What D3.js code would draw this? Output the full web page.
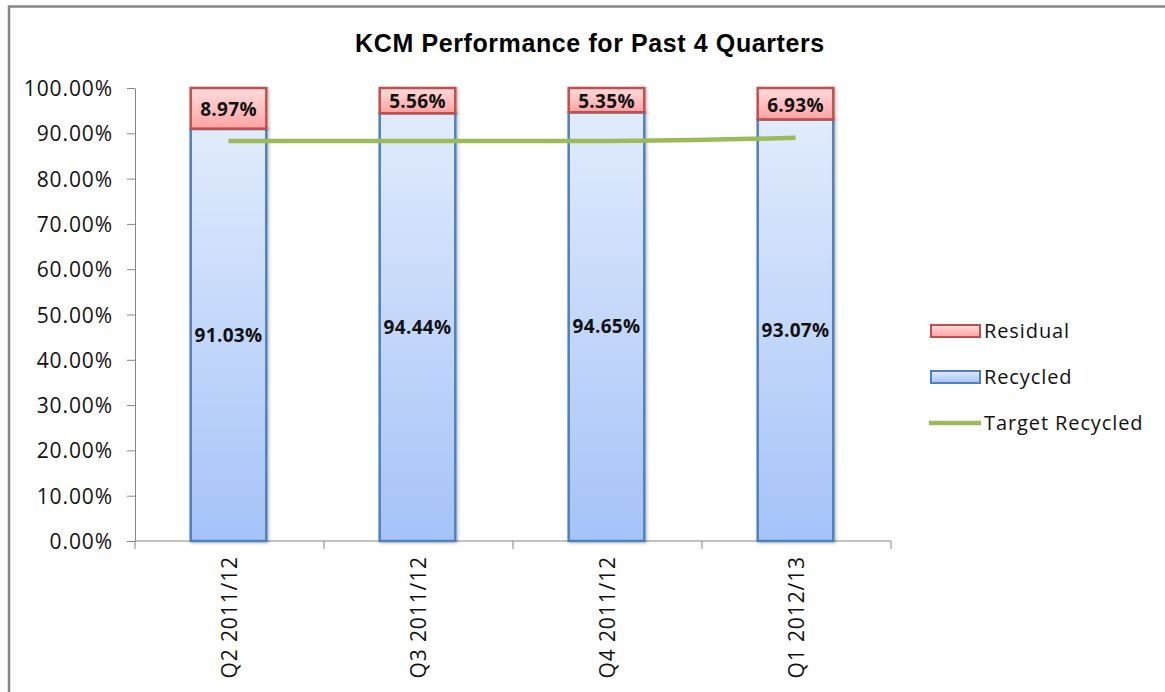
<!DOCTYPE html>
<html>
<head>
<meta charset="utf-8">
<script src="https://cdn.jsdelivr.net/npm/d3@7"></script>
<style>
  body { margin: 0; background: #fff; }
  svg { display: block; }
</style>
</head>
<body>
<svg id="chart" width="1165" height="692"></svg>
<script>
const quarters = ["Q2 2011/12", "Q3 2011/12", "Q4 2011/12", "Q1 2012/13"];
const recycled = [91.03, 94.44, 94.65, 93.07];
const residual = [8.97, 5.56, 5.35, 6.93];
const targetRecycled = [88.3, 88.3, 88.3, 89.0];
const yTickValues = [0, 10, 20, 30, 40, 50, 60, 70, 80, 90, 100];

const svg = d3.select("#chart");
const defs = svg.append("defs");

// gradients like the office chart fill
const blueGrad = defs.append("linearGradient").attr("id", "blueGrad")
  .attr("x1", 0).attr("y1", 0).attr("x2", 0).attr("y2", 1);
blueGrad.append("stop").attr("offset", "0%").attr("stop-color", "#e1ebfc");
blueGrad.append("stop").attr("offset", "100%").attr("stop-color", "#a5c3f8");

const redGrad = defs.append("linearGradient").attr("id", "redGrad")
  .attr("x1", 0).attr("y1", 0).attr("x2", 0).attr("y2", 1);
redGrad.append("stop").attr("offset", "0%").attr("stop-color", "#ffdcdc");
redGrad.append("stop").attr("offset", "100%").attr("stop-color", "#ffa3a3");

const shadow = defs.append("filter").attr("id", "shadow")
  .attr("x", "-20%").attr("y", "-5%").attr("width", "140%").attr("height", "110%");
shadow.append("feDropShadow").attr("dx", 1.5).attr("dy", 1).attr("stdDeviation", 1.5)
  .attr("flood-color", "#000").attr("flood-opacity", 0.25);

// outer frame
svg.append("path")
  .attr("d", "M9,692 V6.5 H1165")
  .attr("fill", "none").attr("stroke", "#868686").attr("stroke-width", 2.5);

const plotL = 135, plotR = 891, plotT = 88, plotB = 541;

const x = d3.scaleBand().domain(quarters).range([plotL, plotR]).padding(0);
const y = d3.scaleLinear().domain([0, 100]).range([plotB, plotT]);
const barW = x.bandwidth() * 0.4;
const cx = q => x(q) + x.bandwidth() / 2 - 1;

// title
svg.append("text")
  .attr("x", 590).attr("y", 52)
  .attr("text-anchor", "middle")
  .style("font-family", "'Liberation Sans', Arial, sans-serif")
  .style("font-weight", "bold")
  .style("font-size", "25px")
  .style("letter-spacing", "0.6px")
  .text("KCM Performance for Past 4 Quarters");

// y axis
const yAxis = d3.axisLeft(y).tickValues(yTickValues)
  .tickFormat(d => d.toFixed(2) + "%").tickSize(8).tickSizeOuter(0);
const gy = svg.append("g").attr("transform", `translate(${plotL},0)`).call(yAxis);
gy.select(".domain").attr("stroke", "#868686");
gy.selectAll(".tick line").attr("stroke", "#868686");
gy.selectAll(".tick text")
  .attr("x", -22).attr("dy", "0.36em")
  .style("font-family", "'Open Sans', sans-serif")
  .style("font-size", "21px")
  .style("letter-spacing", "0.9px")
  .style("fill", "#111");

// x axis
const gx = svg.append("g").attr("transform", `translate(0,${plotB})`);
gx.append("line").attr("x1", plotL).attr("x2", plotR).attr("stroke", "#868686");
gx.selectAll("line.tk").data(quarters.concat([null])).join("line")
  .attr("class", "tk")
  .attr("x1", (d, i) => plotL + i * x.step()).attr("x2", (d, i) => plotL + i * x.step())
  .attr("y1", 0).attr("y2", 8).attr("stroke", "#868686");
gx.selectAll("text").data(quarters).join("text")
  .attr("transform", d => `translate(${cx(d) + 8},${15}) rotate(-90)`)
  .attr("text-anchor", "end")
  .style("font-family", "'Open Sans', sans-serif")
  .style("font-size", "21px")
  .style("letter-spacing", "0.9px")
  .style("fill", "#111")
  .text(d => d);

// bars
const bars = svg.append("g");
quarters.forEach((q, i) => {
  const x0 = cx(q) - barW / 2;
  bars.append("rect")
    .attr("x", x0).attr("y", y(recycled[i]))
    .attr("width", barW).attr("height", y(0) - y(recycled[i]))
    .attr("fill", "url(#blueGrad)").attr("stroke", "#4f81bd").attr("stroke-width", 2.5)
    .attr("filter", "url(#shadow)");
  bars.append("rect")
    .attr("x", x0).attr("y", y(recycled[i] + residual[i]))
    .attr("width", barW).attr("height", y(recycled[i]) - y(recycled[i] + residual[i]))
    .attr("fill", "url(#redGrad)").attr("stroke", "#c0504d").attr("stroke-width", 2.5)
    .attr("filter", "url(#shadow)");
});

// target line
const line = d3.line()
  .x((d, i) => cx(quarters[i]))
  .y(d => y(d))
  .curve(d3.curveMonotoneX);
svg.append("path")
  .datum(targetRecycled)
  .attr("d", line)
  .attr("fill", "none").attr("stroke", "#9bbb59").attr("stroke-width", 4.5);

// data labels
const labelStyle = sel => sel
  .attr("text-anchor", "middle").attr("dy", "0.36em")
  .style("font-family", "'Open Sans', sans-serif")
  .style("font-weight", "bold")
  .style("font-size", "19px")
  .style("letter-spacing", "0.3px")
  .style("fill", "#111");

quarters.forEach((q, i) => {
  svg.append("text").call(labelStyle)
    .attr("x", cx(q)).attr("y", y(recycled[i] / 2))
    .text(recycled[i].toFixed(2) + "%");
  svg.append("text").call(labelStyle)
    .attr("x", cx(q)).attr("y", y(recycled[i] + residual[i] / 2) + 1)
    .text(residual[i].toFixed(2) + "%");
});

// legend
const legendItems = [
  { label: "Residual", type: "rect", fill: "url(#redGrad)", stroke: "#c0504d" },
  { label: "Recycled", type: "rect", fill: "url(#blueGrad)", stroke: "#4f81bd" },
  { label: "Target Recycled", type: "line", stroke: "#9bbb59" }
];
const legend = svg.append("g").attr("transform", "translate(930,331)");
legendItems.forEach((item, i) => {
  const gy0 = i * 46;
  if (item.type === "rect") {
    legend.append("rect")
      .attr("x", 1).attr("y", gy0 - 6).attr("width", 49).attr("height", 12)
      .attr("fill", item.fill).attr("stroke", item.stroke).attr("stroke-width", 2);
  } else {
    legend.append("line")
      .attr("x1", -1).attr("x2", 51).attr("y1", gy0).attr("y2", gy0)
      .attr("stroke", item.stroke).attr("stroke-width", 4.5);
  }
  legend.append("text")
    .attr("x", 54).attr("y", gy0).attr("dy", "0.36em")
    .style("font-family", "'Open Sans', sans-serif")
    .style("font-size", "20px")
    .style("letter-spacing", "0.9px")
    .style("fill", "#111")
    .text(item.label);
});
</script>
</body>
</html>
